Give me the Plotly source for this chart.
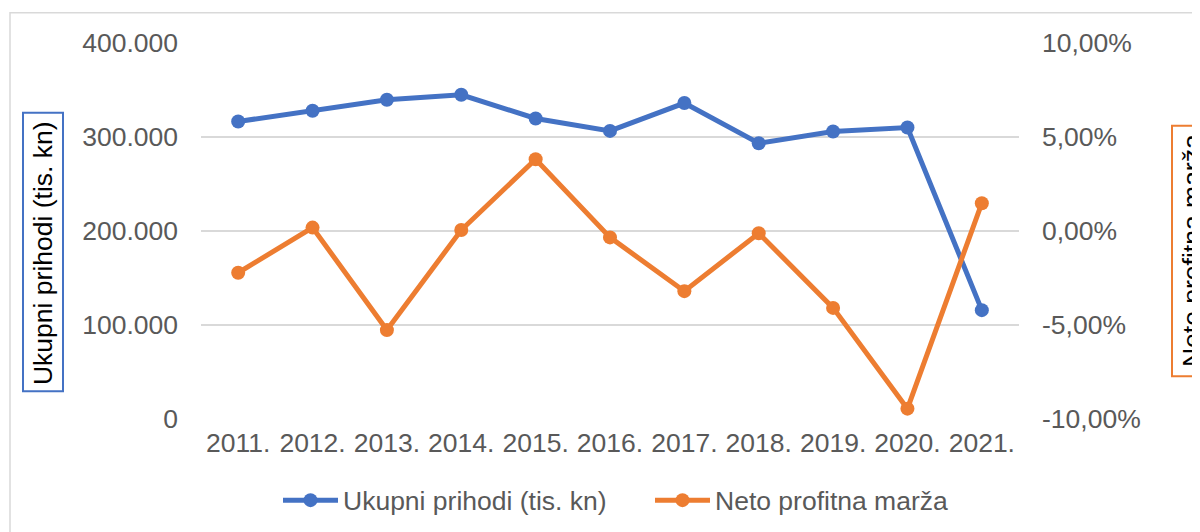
import plotly.graph_objects as go

years = ["2011.", "2012.", "2013.", "2014.", "2015.", "2016.", "2017.", "2018.", "2019.", "2020.", "2021."]
prihodi = [316500, 327900, 339600, 344900, 319700, 306500, 336100, 293400, 305800, 310100, 115800]
marza = [-2.22, 0.18, -5.27, 0.05, 3.82, -0.34, -3.20, -0.12, -4.09, -9.45, 1.48]

left_ticks = [0, 100000, 200000, 300000, 400000]
left_labels = ["0", "100.000", "200.000", "300.000", "400.000"]
right_ticks = [-10, -5, 0, 5, 10]
right_labels = ["-10,00%", "-5,00%", "0,00%", "5,00%", "10,00%"]

# page offset caused by the default 8px body margin
OFF = 8
W, H = 1200 - OFF, 532 - OFF
# plot area in page pixels
L, R, T, B = 201, 1019, 43.3, 418.7

def px(x):
    return (x - L) / (R - L)

def py(y):
    return (B - y) / (B - T)

FONT = "Liberation Sans, Arial, sans-serif"
FS = 26.5
BLUE = "#4472c4"
ORANGE = "#ed7d31"
GREY = "#595959"

fig = go.Figure()
fig.add_trace(go.Scatter(
    x=years, y=prihodi, name="Ukupni prihodi (tis. kn)", mode="lines+markers",
    line=dict(color=BLUE, width=5), marker=dict(color=BLUE, size=14), yaxis="y"))
fig.add_trace(go.Scatter(
    x=years, y=marza, name="Neto profitna marža", mode="lines+markers",
    line=dict(color=ORANGE, width=5), marker=dict(color=ORANGE, size=14), yaxis="y2"))

fig.update_layout(
    width=W, height=H,
    margin=dict(l=L - OFF, r=W - (R - OFF), t=T - OFF, b=H - (B - OFF), pad=0, autoexpand=False),
    paper_bgcolor="white", plot_bgcolor="white",
    font=dict(family=FONT, size=FS, color=GREY),
    showlegend=True,
    legend=dict(orientation="h", x=px(278), xanchor="left", y=py(500), yanchor="middle",
                font=dict(family=FONT, size=FS, color=GREY), itemwidth=55,
                entrywidth=302, entrywidthmode="pixels",
                bgcolor="rgba(0,0,0,0)", traceorder="normal"),
    xaxis=dict(type="category", range=[-0.5, 10.5], showgrid=False, showline=False,
               zeroline=False, ticks="", tickfont=dict(size=FS, color=GREY),
               ticklabelstandoff=5),
    yaxis=dict(range=[0, 400000], tickvals=left_ticks, ticktext=left_labels,
               showgrid=True, gridcolor="#d9d9d9", gridwidth=1.5, zeroline=False,
               showline=False, ticks="", tickfont=dict(size=FS, color=GREY),
               ticklabelstandoff=22),
    yaxis2=dict(range=[-10, 10], tickvals=right_ticks, ticktext=right_labels,
                overlaying="y", side="right", showgrid=False, zeroline=False,
                showline=False, ticks="", tickfont=dict(size=FS, color=GREY),
                ticklabelstandoff=22),
)

# chart border
fig.add_shape(type="rect", xref="paper", yref="paper",
              x0=px(10), x1=px(1215), y0=py(545), y1=py(13),
              line=dict(color="#d9d9d9", width=1.5), fillcolor="rgba(0,0,0,0)", layer="below")
# axis title boxes
fig.add_shape(type="rect", xref="paper", yref="paper",
              x0=px(23), x1=px(63), y0=py(391), y1=py(113),
              line=dict(color=BLUE, width=2), fillcolor="rgba(0,0,0,0)")
fig.add_shape(type="rect", xref="paper", yref="paper",
              x0=px(1172), x1=px(1215), y0=py(376), y1=py(126),
              line=dict(color=ORANGE, width=2), fillcolor="rgba(0,0,0,0)")

fig.add_annotation(text="Ukupni prihodi (tis. kn)", xref="paper", yref="paper",
                   x=px(43), y=py(253), xanchor="center", yanchor="middle",
                   textangle=-90, showarrow=False,
                   font=dict(family=FONT, size=FS, color="black"))
fig.add_annotation(text="Neto profitna marža", xref="paper", yref="paper",
                   x=px(1192), y=py(251), xanchor="center", yanchor="middle",
                   textangle=-90, showarrow=False,
                   font=dict(family=FONT, size=FS, color="black"))

fig.write_html("out.html")
